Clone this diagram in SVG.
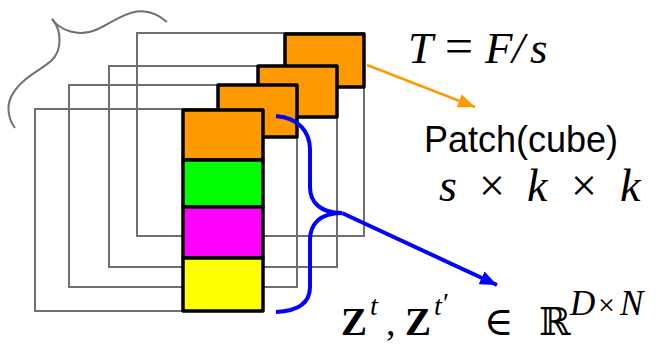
<svg xmlns="http://www.w3.org/2000/svg" width="661" height="349" viewBox="0 0 661 349">
<style>
.frame{fill:none;stroke:#707070;stroke-width:2}
.sq{stroke:#000;stroke-width:3.5;stroke-linejoin:round}
.or{fill:#FF9900}
.math{font-family:"Liberation Serif","DejaVu Serif",serif;fill:#000}
.it{font-style:italic}
</style>
<defs>
<marker id="ah-o" viewBox="0 0 17 14" refX="17" refY="7" markerWidth="17" markerHeight="14" markerUnits="userSpaceOnUse" orient="auto"><path d="M0,0 L17,7 L0,14 z" fill="#FF9900"/></marker>
<marker id="ah-b" viewBox="0 0 17 14" refX="17" refY="7" markerWidth="17" markerHeight="14" markerUnits="userSpaceOnUse" orient="auto"><path d="M0,0 L17,7 L0,14 z" fill="#0000FF"/></marker>
</defs>
<rect width="661" height="349" fill="#fff"/>
<g id="brace-top">
<path d="M52,19 C60,30 78,38 98,29 C118,20 140,-2 167,22" fill="none" stroke="#707070" stroke-width="2"/>
<path d="M52,19 C62,30 62,50 52,60 C42,70 20,78 11,97 C6,108 9,120 15,128" fill="none" stroke="#707070" stroke-width="2"/>
</g>
<g id="layer1">
<rect class="frame" x="137" y="33" width="227" height="203"/>
<rect class="sq or" x="285" y="34" width="79" height="53"/>
</g>
<g id="layer2">
<rect class="frame" x="109" y="66" width="228" height="201"/>
<rect class="sq or" x="258" y="66" width="79" height="51"/>
</g>
<g id="layer3">
<rect class="frame" x="69" y="85" width="228" height="202"/>
<rect class="sq or" x="218" y="85" width="79" height="52"/>
</g>
<g id="layer4">
<rect class="frame" x="35" y="109" width="228" height="202"/>
<rect class="sq or" x="183" y="110" width="80" height="50"/>
<rect class="sq" fill="#00FF00" x="183" y="160" width="80" height="47"/>
<rect class="sq" fill="#FF00FF" x="183" y="207" width="80" height="51"/>
<rect class="sq" fill="#FFFF00" x="183" y="258" width="80" height="53"/>
</g>
<g id="connectors">
<path d="M276,116 C300,118 310,133 310,150 L310,187 C310,202 320,213 342,213" fill="none" stroke="#0000FF" stroke-width="4"/>
<path d="M342,213 C320,213 310,224 310,240 L310,287 C310,302 300,311 276,312" fill="none" stroke="#0000FF" stroke-width="4"/>
<line x1="342" y1="213" x2="497" y2="285" stroke="#0000FF" stroke-width="4" marker-end="url(#ah-b)"/>
<line x1="367" y1="65" x2="475" y2="107" stroke="#FF9900" stroke-width="2.5" marker-end="url(#ah-o)"/>
</g>
<g id="label-T">
<text class="math" font-size="45" y="63"><tspan class="it" x="408">T</tspan><tspan font-size="50" x="445">=</tspan><tspan class="it" x="485">F</tspan><tspan class="it" x="512">/</tspan><tspan class="it" x="530">s</tspan></text>
</g>
<g id="label-patch">
<text x="424" y="152" font-family="Liberation Sans, Arial, sans-serif" font-size="36" fill="#000">Patch(cube)</text>
</g>
<g id="label-skk">
<text class="math" font-size="46" y="201"><tspan class="it" x="439">s</tspan><tspan x="479">×</tspan><tspan class="it" x="527">k</tspan><tspan x="571">×</tspan><tspan class="it" x="620">k</tspan></text>
</g>
<g id="label-Z">
<text class="math" y="335"><tspan font-weight="bold" font-size="39" x="341">Z</tspan><tspan class="it" font-size="28" x="370" y="315">t</tspan><tspan font-size="38" x="386" y="335">,</tspan><tspan font-weight="bold" font-size="39" x="405">Z</tspan><tspan class="it" font-size="28" x="434" y="315">t</tspan><tspan font-size="28" x="443" y="312">′</tspan><tspan font-family="DejaVu Serif, serif" font-size="40" x="484" y="335">∈</tspan><tspan font-family="DejaVu Serif, serif" font-size="38" x="539" y="335">ℝ</tspan><tspan class="it" font-size="35" x="570" y="315">D</tspan><tspan font-size="30" x="598" y="315">×</tspan><tspan class="it" font-size="35" x="620" y="315">N</tspan></text>
</g>
</svg>
